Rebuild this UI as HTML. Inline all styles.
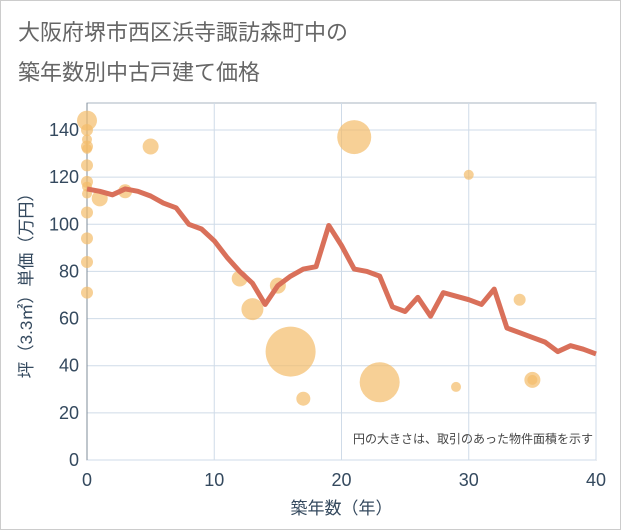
<!DOCTYPE html>
<html><head><meta charset="utf-8"><style>
body{margin:0;background:#fff;font-family:"Liberation Sans","Noto Sans CJK JP",sans-serif;}
#wrap{position:relative;width:619px;height:528px;border:1px solid #ccc;background:#fff}
.t{position:absolute;left:17px;color:#666;font-size:22px}
</style></head><body>
<div id="wrap">
<div class="t" style="top:14px">大阪府堺市西区浜寺諏訪森町中の</div>
<div class="t" style="top:54px">築年数別中古戸建て価格</div>
<svg id="c" width="621" height="530" style="position:absolute;left:-1px;top:-1px"></svg>
</div>
<script>
const lineYears=[0,1,2,3,4,5,6,7,8,9,10,11,12,13,14,15,16,17,18,19,20,21,22,23,24,25,26,27,28,29,30,31,32,33,34,35,36,37,38,39,40];
const lineValues=[115,114,112.5,115,114,112,109,107,100,98,93,86,80,75,66,74,78,81,82,99.5,91,81,80,78,65,63,69,61,71,69.5,68,66,72.5,56,54,52,50,46,48.5,47,45];
const bubbleYears=[0,0,0,0,0,0,0,0,0,0,0,0,0,1,3,5,12,13,15,16,17,21,23,29,30,34,35,35];
const bubbleValues=[144,140,136,133,132,125,118,116,113,105,94,84,71,111,114,133,77,64,74,46,26,137,33,31,121,68,34,34];
const bubbleRadii=[10,6,5,6,5,6,6,5,5,6,6,6,6,8,7,8,8,11,8,25,7,17,20,5,5,6,8,5];
const xTicks=[0,10,20,30,40];
const yTicks=[0,20,40,60,80,100,120,140];
const NS="http://www.w3.org/2000/svg",svg=document.getElementById('c');
const L=87,R=596,T=103,B=460;
const sx=v=>L+(v-0)*(R-L)/40, sy=v=>B-v*(B-130)/140;
const TC='#34495e';
function mk(t,a){const e=document.createElementNS(NS,t);for(const k in a)e.setAttribute(k,a[k]);svg.appendChild(e);return e;}
const bg=mk('rect',{x:L,y:T,width:R-L,height:B-T,fill:'#fff',stroke:'#aab4c0'});


yTicks.forEach(v=>{const g=mk('line',{x1:L,x2:R,y1:sy(v),y2:sy(v),stroke:'#cfdbe8'});


const t=mk('text',{x:L-8,y:sy(v)+6,'text-anchor':'end','font-size':18,fill:TC});t.textContent=v;

});
xTicks.forEach(v=>{const g=mk('line',{x1:sx(v),x2:sx(v),y1:T,y2:B,stroke:'#cfdbe8'});


const t=mk('text',{x:sx(v),y:B+26,'text-anchor':'middle','font-size':18,fill:TC});t.textContent=v;

});
const ax=mk('line',{x1:L,x2:L,y1:T,y2:B,stroke:'#7f8c9a'});


bubbleYears.forEach((yr,i)=>{const c=mk('circle',{cx:sx(yr),cy:sy(bubbleValues[i]),r:bubbleRadii[i],fill:'#f3bc69','fill-opacity':0.7});

});
const p=mk('polyline',{points:lineYears.map((y,i)=>sx(y)+','+sy(lineValues[i])).join(' '),fill:'none',stroke:'#d9705a','stroke-width':5,'stroke-linejoin':'round'});


const n=mk('text',{x:593,y:443,'text-anchor':'end','font-size':12,fill:'#444'});n.textContent='円の大きさは、取引のあった物件面積を示す';


const xt=mk('text',{x:(L+R)/2,y:514,'text-anchor':'middle','font-size':17,fill:TC});xt.textContent='築年数（年）';


const yt=mk('text',{x:0,y:0,'text-anchor':'middle','font-size':17,fill:TC,transform:'translate(32,'+((T+B)/2)+') rotate(-90)'});yt.textContent='坪（3.3㎡）単価（万円）';


</script>
</body></html>
